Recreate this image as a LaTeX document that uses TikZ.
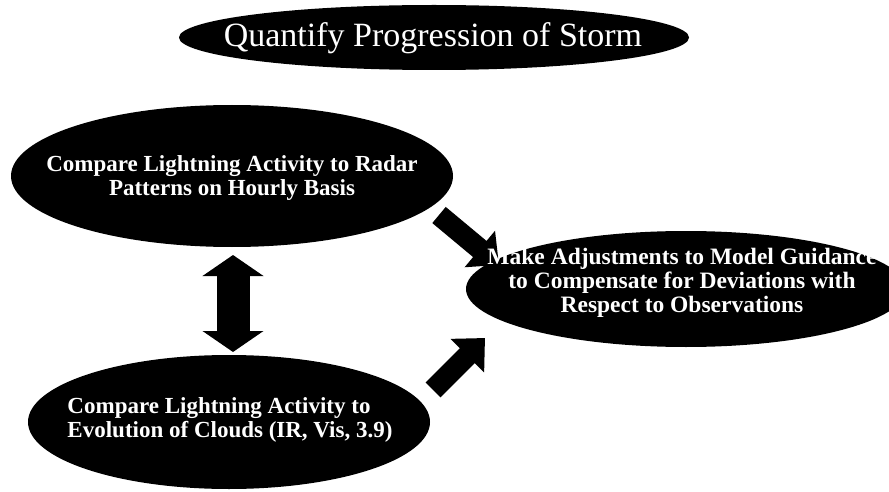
\documentclass[tikz,border=0pt]{standalone}
\usepackage{fontspec}
\setmainfont{Liberation Serif}
\usetikzlibrary{shapes.geometric,arrows.meta}
\begin{document}
\begin{tikzpicture}[x=1pt,y=-1pt,
  blob/.style={ellipse,fill=black,draw=none,inner sep=0pt},
  blobtext/.style={text=white,font=\bfseries\fontsize{23}{24}\selectfont,inner sep=0pt},
  blockarrow/.style={line width=21pt,-{Triangle[width=46pt,length=25pt]}},
  dblarrow/.style={line width=33pt,{Triangle[width=60pt,length=21pt]}-{Triangle[width=60pt,length=21pt]}}]
\useasboundingbox (0,0) rectangle (889,492);

% ellipses
\node[blob,minimum width=510pt,minimum height=65pt] (title) at (434,37.5) {};
\node[blob,minimum width=442pt,minimum height=142pt] (radar) at (232,176) {};
\node[blob,minimum width=402pt,minimum height=134pt] (clouds) at (229,422) {};
\node[blob,minimum width=440pt,minimum height=116pt] (model) at (686,289) {};

% connectors (drawn below the labels)
\coordinate (a1s) at (439,215);
\coordinate (a1e) at (499,265);
\coordinate (a2s) at (433,390);
\coordinate (a2e) at (485,338);
\coordinate (d1) at (233,255);
\coordinate (d2) at (233,352);
\draw[blockarrow] (a1s) -- (a1e);
\draw[blockarrow] (a2s) -- (a2e);
\draw[dblarrow] (d1) -- (d2);

% labels
\node[text=white,font=\fontsize{34}{36}\selectfont,inner sep=0pt] (titletext) at (433,38) {Quantify Progression of Storm};
\node[blobtext,align=center] (radartext) at (232,178) {Compare Lightning Activity to Radar\\Patterns on Hourly Basis};
\node[blobtext,align=left] (cloudstext) at (230,420) {Compare Lightning Activity to\\Evolution of Clouds (IR, Vis, 3.9)};
\node[blobtext,font=\bfseries\fontsize{23.5}{24}\selectfont,align=center] (modeltext) at (682,283) {Make Adjustments to Model Guidance\\to Compensate for Deviations with\\Respect to Observations};
\end{tikzpicture}
\end{document}
